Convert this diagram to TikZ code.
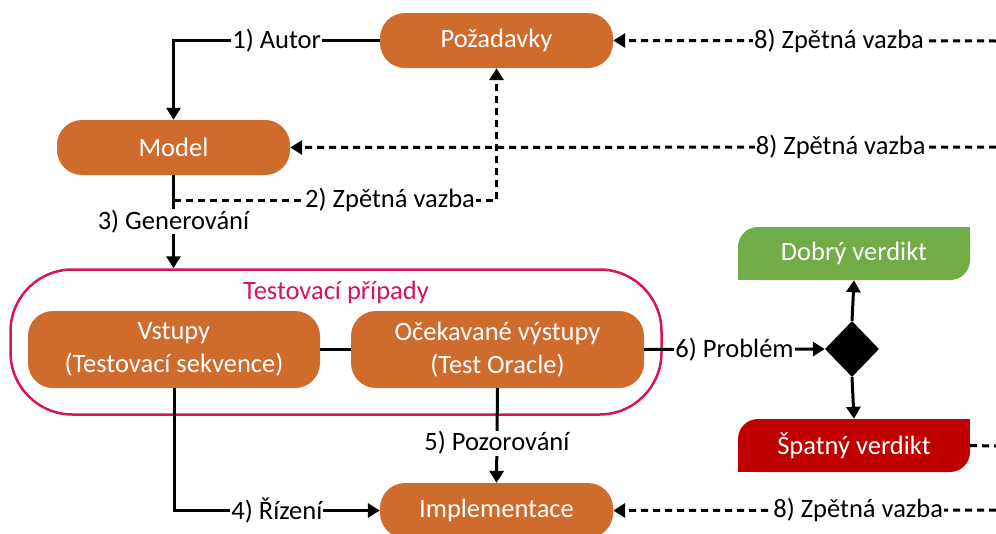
\documentclass[tikz,border=0pt]{standalone}
\usepackage{fontspec}
\setmainfont{Carlito}
\usetikzlibrary{arrows.meta,shapes.geometric}
\definecolor{orng}{RGB}{207,108,45}
\definecolor{mag}{RGB}{214,20,94}
\definecolor{grn}{RGB}{112,173,71}
\definecolor{rd}{RGB}{192,0,0}
\begin{document}
\begin{tikzpicture}[x=1pt,y=-1pt,
  font=\fontsize{26.5}{33}\selectfont,
  box/.style={fill=orng, rounded corners=25pt, text=white, minimum width=233pt, minimum height=55pt, inner sep=0pt, align=center},
  verd/.style={rounded corners=20pt, text=white, minimum width=232pt, minimum height=53pt, inner sep=0pt},
  lbl/.style={fill=white, inner sep=1pt},
  tip/.style={-{Triangle[length=12pt,width=14pt]}},
  conn/.style={line width=3pt, tip},
  plain/.style={line width=3pt},
  dsh/.style={line width=3pt, dash pattern=on 7pt off 5pt},
]
\path[use as bounding box, clip] (0,0) rectangle (996,533);

% container
\node[draw=mag, line width=2.5pt, rounded corners=62pt, minimum width=651pt, minimum height=145pt, inner sep=0pt] (tc) at (336,342) {};
\node[text=mag] (tct) at (336,292) {Testovací případy};

% boxes
\node[box] (poz) at (496.5,40.5) {Požadavky};
\node[box] (model) at (173.5,147.5) {Model};
\node[box, minimum width=292pt, minimum height=77pt] (vst) at (174,349.5) {Vstupy\\(Testovací sekvence)};
\node[box, minimum width=293pt, minimum height=77pt] (oce) at (497.5,349.5) {Očekavané výstupy\\(Test Oracle)};
\node[box] (impl) at (496.5,510.5) {Implementace};

% decision
\node[diamond, aspect=1, fill=black, minimum width=54pt, minimum height=56pt, inner sep=0pt] (dia) at (852,349) {};
\node[verd, fill=grn] (dob) at (854,253.5) {Dobrý verdikt};
\fill[grn] (dob.north east) rectangle ++(-20,20);
\fill[grn] (dob.south west) rectangle ++(20,-20);
\node[verd, fill=rd] (spa) at (854,445.5) {Špatný verdikt};
\fill[rd] (spa.north east) rectangle ++(-20,20);
\fill[rd] (spa.south west) rectangle ++(20,-20);

% coordinates
\coordinate (fb2) at (174,200);
\coordinate (r1) at (996,41);
\coordinate (r2) at (996,147);
\coordinate (r3) at (996,510);
\coordinate (r4) at (996,446);

% connectors
\draw[conn] (poz.west) -- node[lbl]{1) Autor} (model.north |- poz.west) -- (model.north);
\draw[conn] (model.south) -- node[lbl]{3) Generování} (model.south |- tc.north);
\draw[dsh, tip] (fb2) -- node[lbl, pos=0.67]{2) Zpětná vazba} (fb2 -| poz.south) -- (poz.south);
\draw[plain] (vst) -- (oce);
\draw[conn] (vst.south) |- node[lbl, pos=0.75]{4) Řízení} (impl.west);
\draw[conn] (oce.south) -- node[lbl, pos=0.58]{5) Pozorování} (impl.north);
\draw[conn] (oce.east) -- node[lbl]{6) Problém} (dia.west);
\draw[conn] (dia.north) -- (dob.south);
\draw[conn] (dia.south) -- (spa.north);

\draw[dsh, tip] (r1) -- node[lbl, pos=0.41]{8) Zpětná vazba} (poz.east);
\draw[dsh, tip] (r2) -- node[lbl, pos=0.22]{8) Zpětná vazba} (model.east);
\draw[dsh, tip] (r3) -- node[lbl, pos=0.36]{8) Zpětná vazba} (impl.east);
\draw[dsh] (spa.east) -- (r4);
\end{tikzpicture}
\end{document}
